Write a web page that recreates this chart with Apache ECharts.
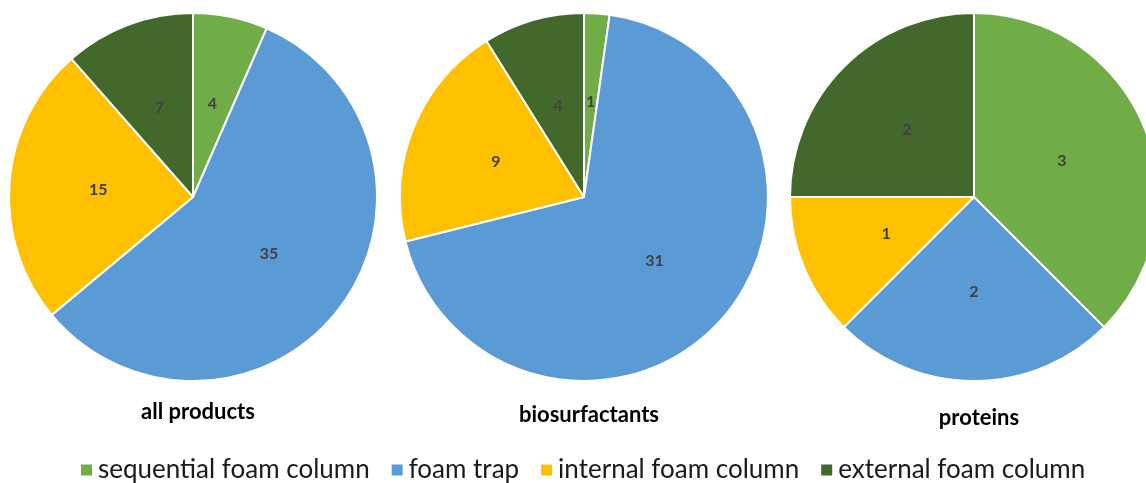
<!DOCTYPE html>
<html>
<head>
<meta charset="utf-8">
<script src="https://cdn.jsdelivr.net/npm/echarts@6/dist/echarts.min.js"></script>
<style>
  html, body { margin: 0; padding: 0; background: #fff; }
  #chart { width: 1146px; height: 483px; }
</style>
</head>
<body>
<div id="chart"></div>
<script>
// Slice categories (shared by all three pies)
const categories = ['sequential foam column', 'foam trap', 'internal foam column', 'external foam column'];
const colors = ['#70AD47', '#5B9BD5', '#FFC000', '#43682B'];

// Counts per product group
const allProducts = [4, 35, 15, 7];
const biosurfactants = [1, 31, 9, 4];
const proteins = [3, 2, 1, 2];

const groupTitles = ['all products', 'biosurfactants', 'proteins'];
const groupValues = [allProducts, biosurfactants, proteins];

const centers = [[193, 197], [584, 197], [974, 197]];
const titleY = [396, 399, 402];

const chart = echarts.init(document.getElementById('chart'), null, { renderer: 'canvas' });

const series = groupValues.map((vals, i) => ({
  name: groupTitles[i],
  type: 'pie',
  center: centers[i],
  radius: [0, 184],
  startAngle: 90,
  clockwise: true,
  silent: true,
  animation: false,
  itemStyle: { borderColor: '#ffffff', borderWidth: 2 },
  label: {
    show: true,
    position: 'inside',
    formatter: '{c}',
    color: '#404040',
    fontFamily: 'Lato, "Open Sans", sans-serif',
    fontWeight: 'bold',
    fontSize: 16
  },
  labelLine: { show: false },
  data: categories.map((c, k) => ({ name: c, value: vals[k], itemStyle: { color: colors[k] } }))
}));

chart.setOption({
  backgroundColor: '#ffffff',
  title: groupTitles.map((t, i) => ({
    text: t,
    left: centers[i][0],
    top: titleY[i],
    textAlign: 'center',
    textStyle: {
      fontFamily: 'Lato, "Open Sans", sans-serif',
      fontWeight: 'bold',
      fontSize: 22,
      color: '#000000'
    }
  })),
  legend: {
    data: categories,
    left: 74,
    top: 450,
    icon: 'rect',
    itemWidth: 13,
    itemHeight: 13,
    itemGap: 20,
    textStyle: {
      fontFamily: 'Lato, "Open Sans", sans-serif',
      fontSize: 26,
      lineHeight: 30,
      color: '#1a1a1a'
    }
  },
  series: series
});
</script>
</body>
</html>
